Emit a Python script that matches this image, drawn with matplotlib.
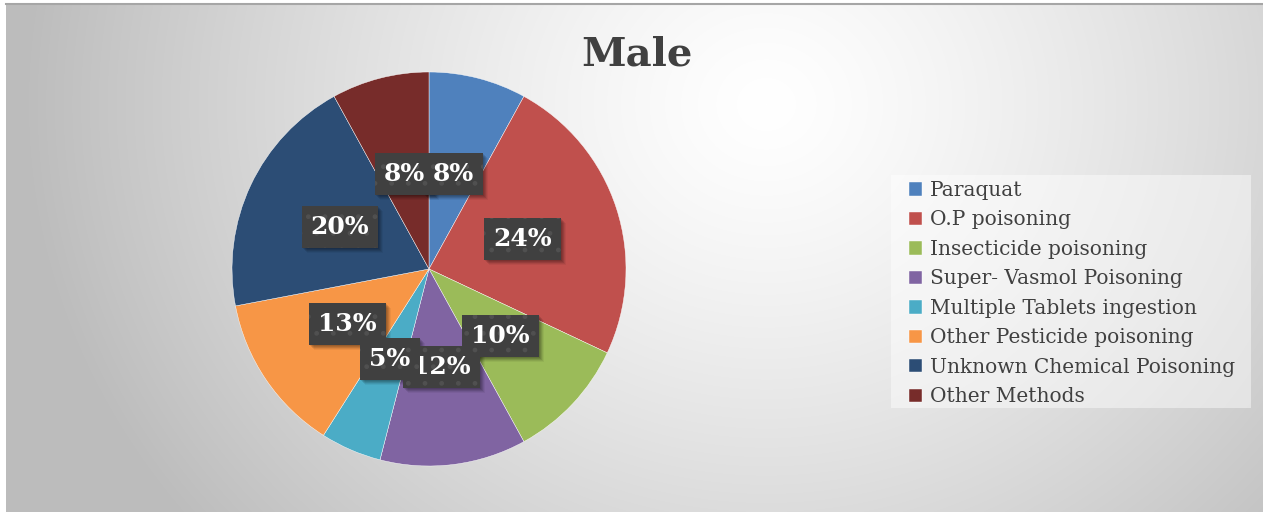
import numpy as np
import matplotlib
matplotlib.use("Agg")
import matplotlib.pyplot as plt
from matplotlib.patches import Rectangle

categories = ["Paraquat", "O.P poisoning", "Insecticide poisoning",
              "Super- Vasmol Poisoning", "Multiple Tablets ingestion",
              "Other Pesticide poisoning", "Unknown Chemical Poisoning",
              "Other Methods"]
values = [8, 24, 10, 12, 5, 13, 20, 8]
colors = ["#4F81BD", "#C0504D", "#9BBB59", "#8064A2", "#4BACC6",
          "#F79646", "#2C4D75", "#772C2A"]
title = "Male"

W, H = 1263, 512
fig = plt.figure(figsize=(W / 100, H / 100), dpi=100)
fig.patch.set_facecolor("white")

# background radial gradient
bg = fig.add_axes([6 / W, 0, 1 - 6 / W, 1 - 4 / H])
bg.set_axis_off()
yy, xx = np.mgrid[0:508, 0:1257]
cx, cy = 760, 100
d = np.sqrt(((xx - cx) / 1.0) ** 2 + ((yy - cy) / 0.9) ** 2)
t = np.clip(d / 740, 0, 1)
g = 1.0 - 0.26 * t ** 1.3
img = np.dstack([g, g, g])
bg.imshow(img, aspect="auto", extent=[0, 1, 0, 1], interpolation="bilinear")
bg.set_xlim(0, 1)
bg.set_ylim(0, 1)
fig.add_artist(plt.Line2D([6 / W, 1], [1 - 3.5 / H, 1 - 3.5 / H],
                          transform=fig.transFigure, color="#a6a6a6", lw=1.5))

# pie
R = 197
cxp, cyp = 429, 269
ax = fig.add_axes([(cxp - R) / W, (H - cyp - R) / H, 2 * R / W, 2 * R / H])
wedges, texts, autotexts = ax.pie(
    values, colors=colors, startangle=90, counterclock=False,
    autopct=lambda p: f"{p:.0f}%", pctdistance=0.5,
    wedgeprops=dict(edgecolor="white", linewidth=0.3),
    textprops=dict(color="white", fontsize=18, fontweight="bold",
                   family="DejaVu Serif"))
ax.set_xlim(-1, 1)
ax.set_ylim(-1, 1)
ax.set_aspect("equal")
for at in autotexts:
    at.set_bbox(dict(boxstyle="square,pad=0.36", facecolor="#404040",
                     edgecolor="#505050", linewidth=0, hatch="."))

fig.text(637 / W, 1 - 55 / H, title, ha="center", va="center",
         fontsize=29, fontweight="bold", color="#404040", family="DejaVu Serif")

# legend background panel
fig.add_artist(Rectangle((891 / W, 1 - 408 / H), 360 / W, 233 / H,
                         transform=fig.transFigure, facecolor="white",
                         alpha=0.45, linewidth=0))
leg = fig.legend(wedges, categories, loc="upper left",
                 bbox_to_anchor=(909 / W, 1 - 181 / H),
                 prop=dict(family="DejaVu Serif", size=14.5),
                 frameon=False, borderpad=0,
                 labelspacing=0.52, handlelength=0.65, handleheight=0.65,
                 handletextpad=0.4, borderaxespad=0)
for tx in leg.get_texts():
    tx.set_color("#404040")

# soft shadows behind the label boxes
fig.canvas.draw()
for at in autotexts:
    bb = at.get_bbox_patch().get_window_extent()
    for k, a in [(1, 0.10), (2, 0.10), (3, 0.10), (4, 0.07), (5, 0.05)]:
        ax.add_patch(Rectangle((bb.x0 + k, bb.y0 - k), bb.width, bb.height,
                               transform=None, facecolor="black", alpha=a,
                               linewidth=0, zorder=2))

fig.savefig("out.png", dpi=100)
